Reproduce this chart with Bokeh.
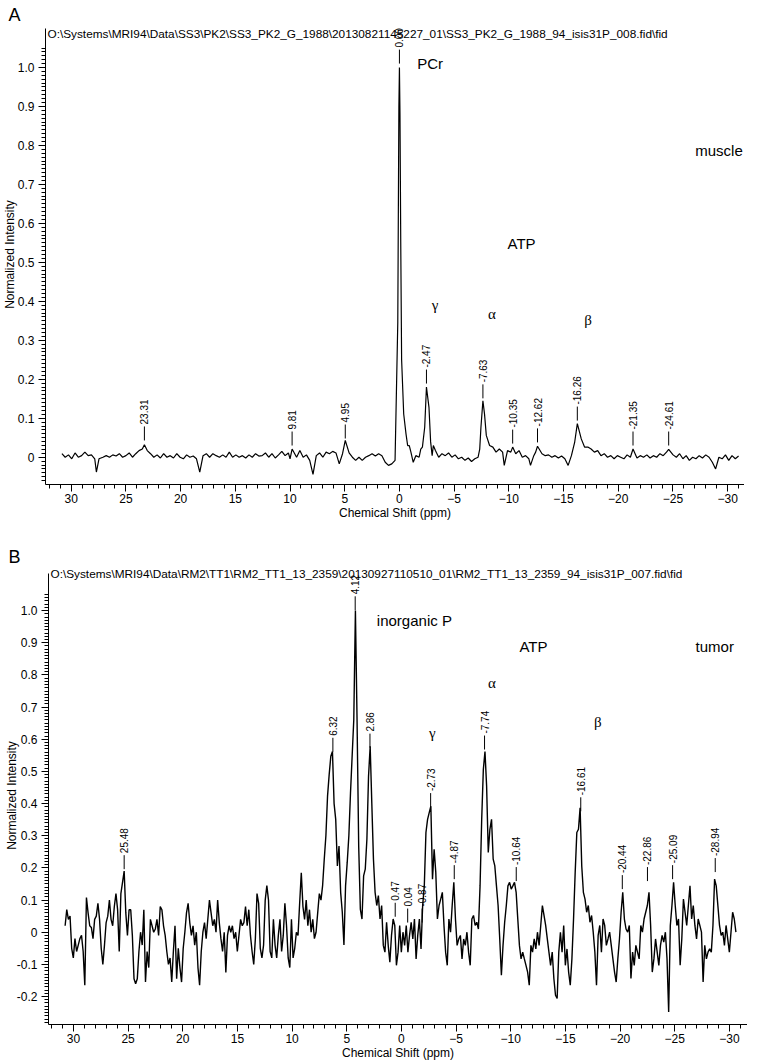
import numpy as np
from bokeh.plotting import figure
from bokeh.layouts import column
from bokeh.models import Range1d, FixedTicker, Label, PrintfTickFormatter
from bokeh.core.properties import value
from bokeh.embed import file_html
from bokeh.resources import INLINE

# ---------------- data: panel A (muscle) ----------------
a_ppm = [30.85, 30.55, 30.25, 29.95, 29.65, 29.35, 29.05, 28.75, 28.45, 28.15, 27.85, 27.70, 27.46, 27.10,
         26.80, 26.50, 26.20, 25.90, 25.60, 25.30, 25.00, 24.70, 24.40, 24.10, 23.80, 23.50, 23.31, 23.05,
         22.75, 22.45, 22.15, 21.85, 21.55, 21.25, 20.95, 20.65, 20.35, 20.05, 19.75, 19.45, 19.15, 18.85,
         18.55, 18.25, 17.95, 17.65, 17.35, 17.05, 16.75, 16.45, 16.15, 15.85, 15.55, 15.25, 14.95, 14.65,
         14.35, 14.05, 13.75, 13.45, 13.15, 12.85, 12.55, 12.25, 11.95, 11.65, 11.35, 11.05, 10.75, 10.45,
         10.15, 10.00, 9.81, 9.40, 9.10, 8.80, 8.50, 8.20, 7.90, 7.60, 7.30, 7.00, 6.70, 6.40, 6.10, 5.80,
         5.50, 5.20, 4.95, 4.60, 4.30, 4.00, 3.70, 3.40, 3.10, 2.80, 2.50, 2.20, 1.90, 1.60, 1.30, 1.00,
         0.70, 0.40, 0.15, 0.05, 0.00, -0.05, -0.12, -0.20, -0.39, -0.60, -0.75, -0.90, -1.05, -1.26,
         -1.50, -1.80, -1.95, -2.10, -2.31, -2.47, -2.70, -2.85, -2.99, -3.10, -3.29, -3.59, -3.89, -4.19,
         -4.49, -4.79, -5.09, -5.39, -5.69, -5.99, -6.29, -6.59, -6.89, -7.19, -7.34, -7.45, -7.63, -7.78,
         -7.94, -8.24, -8.54, -8.83, -9.13, -9.43, -9.58, -9.88, -10.18, -10.35, -10.63, -10.93, -11.23,
         -11.53, -11.83, -11.98, -12.28, -12.45, -12.62, -13.03, -13.33, -13.63, -13.93, -14.23, -14.53,
         -14.82, -15.12, -15.42, -15.72, -16.02, -16.26, -16.62, -16.92, -17.22, -17.52, -17.82, -18.12,
         -18.42, -18.72, -19.02, -19.32, -19.62, -19.92, -20.22, -20.52, -20.81, -21.11, -21.35, -21.71,
         -22.01, -22.31, -22.61, -22.91, -23.21, -23.51, -23.81, -24.11, -24.41, -24.61, -25.01, -25.31,
         -25.61, -25.91, -26.21, -26.50, -26.80, -27.10, -27.40, -27.70, -28.00, -28.30, -28.60, -28.90,
         -29.20, -29.50, -29.80, -30.10, -30.40, -30.70, -31.00]
a_int = [0.009, 0.000, 0.006, -0.004, 0.011, 0.000, 0.004, 0.013, 0.004, 0.006, -0.004, -0.038, -0.004, 0.000,
         0.004, 0.000, 0.006, 0.003, 0.009, 0.000, 0.004, 0.011, 0.000, 0.009, 0.017, 0.021, 0.032, 0.017,
         0.009, 0.000, 0.006, -0.002, 0.009, 0.000, 0.004, -0.002, 0.009, 0.000, -0.004, 0.006, 0.000, 0.003,
         -0.004, -0.038, 0.004, 0.009, 0.000, 0.009, 0.004, 0.000, 0.006, 0.000, 0.013, 0.000, 0.006, 0.000,
         0.004, -0.002, 0.006, 0.000, 0.009, 0.003, 0.004, 0.011, 0.000, 0.009, -0.002, 0.006, 0.015, 0.004,
         0.011, -0.004, 0.021, 0.000, 0.017, 0.000, 0.006, -0.008, -0.044, 0.004, 0.011, 0.000, 0.013, 0.009, 0.015, 0.011,
         -0.017, 0.009, 0.043, 0.011, 0.000, -0.008, 0.000, -0.008, 0.000, 0.004, 0.009, 0.003, 0.009, 0.004, -0.013, -0.021,
         -0.017, -0.008, 0.346, 0.90, 1.00, 0.88, 0.55, 0.25, 0.111, 0.060, 0.030, 0.030, 0.013, -0.013,
         0.004, 0.000, 0.021, 0.026, 0.077, 0.180, 0.128, 0.040, 0.004, 0.030, 0.017, 0.000, 0.009, 0.004,
         0.011, 0.000, 0.006, -0.004, 0.000, -0.008, -0.002, -0.011, -0.004, 0.000, 0.021, 0.077, 0.145, 0.110,
         0.056, 0.030, 0.026, 0.013, 0.021, 0.013, -0.021, 0.017, 0.013, 0.026, 0.009, 0.017, 0.000,
         0.004, -0.004, -0.021, 0.004, 0.013, 0.028, 0.009, 0.004, 0.006, 0.000, 0.004, -0.002,
         0.003, -0.004, -0.021, 0.004, 0.039, 0.086, 0.047, 0.026, 0.026, 0.021, 0.013, 0.017,
         0.004, 0.009, 0.000, 0.004, -0.004, 0.004, 0.000, -0.004, 0.006, 0.000, 0.021, -0.002,
         0.004, 0.000, 0.006, -0.002, 0.004, 0.000, 0.009, 0.004, 0.013, 0.020, 0.006, 0.000,
         0.009, -0.004, 0.004, -0.008, 0.000, -0.004, 0.004, -0.002, 0.006, 0.000, -0.013, -0.030,
         0.000, -0.004, 0.006, -0.008, 0.004, -0.004, 0.003]

a_peak_x = [23.31, 9.81, 4.95, 0.00, -2.47, -7.63, -10.35, -12.62, -16.26, -21.35, -24.61]
a_peak_text = ["23.31", "9.81", "4.95", "0.00", "-2.47", "-7.63", "-10.35", "-12.62", "-16.26", "-21.35", "-24.61"]
a_peak_y = [0.043, 0.030, 0.048, 1.010, 0.189, 0.151, 0.035, 0.038, 0.094, 0.030, 0.030]

a_title = "O:\\Systems\\MRI94\\Data\\SS3\\PK2\\SS3_PK2_G_1988\\20130821145227_01\\SS3_PK2_G_1988_94_isis31P_008.fid\\fid"
a_notes = ["PCr", "muscle", "ATP"]
a_notes_x = [-1.62, -27.04, -9.88]
a_notes_y = [1.010, 0.787, 0.548]
a_greek = ["\u03b3", "\u03b1", "\u03b2"]
a_greek_x = [-2.96, -8.09, -16.9]
a_greek_y = [0.391, 0.368, 0.351]

# ---------------- data: panel B (tumor) ----------------
b_ppm = [
    30.76, 30.61, 30.46, 30.31, 30.16, 30.01, 29.86, 29.71, 29.56, 29.41, 29.26, 29.11, 28.96, 28.81, 28.66, 28.51, 28.36, 28.21, 28.06, 27.91,
    27.76, 27.61, 27.46, 27.31, 27.16, 27.01, 26.86, 26.71, 26.56, 26.41, 26.26, 26.11, 25.96, 25.81, 25.66, 25.51, 25.36, 25.21, 25.06, 24.91,
    24.76, 24.61, 24.46, 24.31, 24.16, 24.01, 23.86, 23.71, 23.56, 23.41, 23.26, 23.11, 22.96, 22.81, 22.66, 22.51, 22.36, 22.21, 22.06, 21.91,
    21.76, 21.61, 21.46, 21.31, 21.16, 21.01, 20.86, 20.71, 20.56, 20.41, 20.26, 20.11, 19.96, 19.81, 19.66, 19.51, 19.36, 19.21, 19.06, 18.91,
    18.76, 18.61, 18.46, 18.31, 18.16, 18.01, 17.86, 17.71, 17.56, 17.41, 17.26, 17.11, 16.96, 16.81, 16.66, 16.51, 16.36, 16.21, 16.06, 15.91,
    15.76, 15.61, 15.46, 15.31, 15.16, 15.01, 14.86, 14.71, 14.56, 14.41, 14.26, 14.11, 13.96, 13.81, 13.66, 13.51, 13.36, 13.21, 13.06, 12.91,
    12.76, 12.61, 12.46, 12.31, 12.16, 12.01, 11.86, 11.71, 11.56, 11.41, 11.26, 11.11, 10.96, 10.81, 10.66, 10.51, 10.36, 10.21, 10.06, 9.91,
    9.76, 9.61, 9.46, 9.31, 9.16, 9.01, 8.86, 8.71, 8.56, 8.41, 8.26, 8.11, 7.96, 7.81, 7.66, 7.51, 7.36, 7.21, 7.06, 6.91,
    6.76, 6.61, 6.46, 6.31, 6.16, 6.01, 5.86, 5.71, 5.56, 5.41, 5.26, 5.11, 4.96, 4.81, 4.66, 4.51, 4.36, 4.21, 4.06, 3.91,
    3.76, 3.61, 3.46, 3.31, 3.16, 3.01, 2.86, 2.71, 2.56, 2.41, 2.26, 2.11, 1.96, 1.81, 1.66, 1.51, 1.36, 1.21, 1.06, 0.91,
    0.76, 0.61, 0.46, 0.31, 0.16, 0.01, -0.14, -0.29, -0.44, -0.59, -0.74, -0.89, -1.04, -1.19, -1.34, -1.49, -1.64, -1.79, -1.94, -2.09,
    -2.24, -2.39, -2.54, -2.69, -2.84, -2.99, -3.14, -3.29, -3.44, -3.59, -3.74, -3.89, -4.04, -4.19, -4.34, -4.49, -4.64, -4.79, -4.94, -5.09,
    -5.24, -5.39, -5.54, -5.69, -5.84, -5.99, -6.14, -6.29, -6.44, -6.59, -6.74, -6.89, -7.04, -7.19, -7.34, -7.49, -7.64, -7.79, -7.94, -8.09,
    -8.24, -8.39, -8.54, -8.69, -8.84, -8.99, -9.14, -9.29, -9.44, -9.59, -9.74, -9.89, -10.04, -10.19, -10.34, -10.49, -10.64, -10.79, -10.94, -11.09,
    -11.24, -11.39, -11.54, -11.69, -11.84, -11.99, -12.14, -12.29, -12.44, -12.59, -12.74, -12.89, -13.04, -13.19, -13.34, -13.49, -13.64, -13.79, -13.94, -14.09,
    -14.24, -14.39, -14.54, -14.69, -14.84, -14.99, -15.14, -15.29, -15.44, -15.59, -15.74, -15.89, -16.04, -16.19, -16.34, -16.49, -16.64, -16.79, -16.94, -17.09,
    -17.24, -17.39, -17.54, -17.69, -17.84, -17.99, -18.14, -18.29, -18.44, -18.59, -18.74, -18.89, -19.04, -19.19, -19.34, -19.49, -19.64, -19.79, -19.94, -20.09,
    -20.24, -20.39, -20.54, -20.69, -20.84, -20.99, -21.14, -21.29, -21.44, -21.59, -21.74, -21.89, -22.04, -22.19, -22.34, -22.49, -22.64, -22.79, -22.94, -23.09,
    -23.24, -23.39, -23.54, -23.69, -23.84, -23.99, -24.14, -24.29, -24.44, -24.59, -24.74, -24.89, -25.04, -25.19, -25.34, -25.49, -25.64, -25.79, -25.94, -26.09,
    -26.24, -26.39, -26.54, -26.69, -26.84, -26.99, -27.14, -27.29, -27.44, -27.59, -27.74, -27.89, -28.04, -28.19, -28.34, -28.49, -28.64, -28.79, -28.94, -29.09,
    -29.24, -29.39, -29.54, -29.69, -29.84, -29.99, -30.14, -30.29, -30.44, -30.59]
b_int = [
    0.02, 0.07, 0.04, 0.05, -0.05, -0.08, -0.02, -0.06, -0.04, -0.02,
    -0.01, -0.06, -0.165, 0.108, 0.06, 0.02, 0.015, -0.02, 0.04, 0.05,
    0.09, 0.04, -0.05, -0.10, -0.04, 0.03, 0.05, 0.10, 0.04, 0.02,
    0.08, 0.12, 0.07, -0.06, 0.12, 0.155, 0.19, 0.06, -0.01, 0.07,
    0.07, -0.01, -0.145, -0.16, -0.145, -0.06, 0.0, -0.04, 0.07, -0.155,
    -0.06, -0.11, 0.04, 0.02, 0.0, 0.01, 0.04, -0.01, 0.08, 0.07,
    0.02, -0.01, -0.06, -0.10, -0.08, -0.155, -0.06, 0.02, -0.145, -0.05,
    -0.11, -0.155, -0.05, 0.0, 0.06, 0.09, 0.03, -0.01, 0.02, -0.04,
    0.0, -0.11, -0.165, -0.06, 0.0, 0.03, -0.02, 0.04, 0.10, 0.06,
    0.02, 0.04, 0.0, 0.10, 0.03, -0.02, -0.06, 0.0, -0.125, -0.01,
    0.02, 0.0, 0.02, -0.02, 0.0, -0.06, -0.01, 0.04, 0.02, 0.03,
    0.08, 0.02, 0.07, -0.01, -0.06, -0.10, -0.02, 0.12, 0.09, -0.05,
    -0.08, -0.04, 0.10, 0.145, 0.10, -0.06, -0.08, 0.04, -0.04, -0.08,
    -0.01, 0.04, -0.06, -0.01, 0.09, 0.02, -0.08, -0.11, 0.04, -0.08,
    -0.05, 0.0, -0.01, 0.09, 0.185, 0.08, 0.04, 0.10, 0.02, 0.07,
    0.0, 0.04, -0.02, 0.0, 0.06, 0.12, 0.10, 0.145, 0.227, 0.30,
    0.423, 0.49, 0.547, 0.562, 0.40, 0.35, 0.206, 0.268, 0.124, 0.062,
    -0.04, 0.145, 0.217, 0.30, 0.433, 0.547, 0.66, 1.0, 0.66, 0.268,
    0.072, 0.041, 0.175, 0.196, 0.289, 0.485, 0.578, 0.40, 0.227, 0.124,
    0.083, 0.114, 0.041, 0.083, -0.041, -0.062, 0.031, -0.041, -0.093, -0.01,
    0.041, 0.021,
    -0.103, -0.062, 0.021, -0.062, 0, -0.041, 0.021, -0.062, -0.01, 0.031,
    -0.021, 0.041, -0.083, -0.01, 0.041, -0.052, 0.083, 0.144, 0.31, 0.351,
    0.372, 0.392, 0.165, 0.258, 0.186, 0.041, 0.083, 0.103, 0.124, 0.021,
    -0.062, -0.103, 0.041, 0, 0.083, 0.155, 0.041, -0.041, -0.021, -0.01,
    -0.083, -0.021, -0.041, 0, -0.062, -0.103, 0.041, 0.052, 0.021, 0.031,
    0.01, 0.144, 0.351, 0.506, 0.562, 0.454, 0.248, 0.32, 0.351, 0.227,
    0.206, 0.144, 0.083, -0.021, -0.134, -0.041, 0.031, 0.083, 0.144, 0.155,
    0.134, 0.144, 0.155, 0.124, 0.041, -0.041, -0.083, -0.062, -0.083, -0.103,
    -0.124, -0.165, -0.041, -0.062, -0.021, -0.052, 0, -0.041, 0.021, 0.083,
    0.052, 0.021, -0.021, -0.062, -0.103, -0.062, -0.144, -0.196, -0.206, -0.062,
    0, -0.062, 0.021, -0.103, -0.052, -0.124, -0.165, -0.083, 0.041, 0.186,
    0.31, 0.32, 0.387, 0.206, 0.124, 0.103, 0.062, 0.083, 0.031, 0.052,
    0, -0.062, -0.165, -0.01, 0.021, -0.062, 0.041, 0.021, -0.041, -0.021,
    0, -0.041, -0.083, -0.124, -0.155, -0.083, -0.021, 0.062, 0.124, 0.041,
    0.01, 0, 0.021, -0.144, -0.062, -0.103, -0.041, -0.062, -0.083, 0.021,
    0, 0.041, 0.062, 0.083, 0.124, 0.021, -0.124, -0.083, -0.021, -0.062,
    -0.103, -0.041, -0.01, -0.031, 0, -0.083, -0.248, 0.021, 0.083, 0.155,
    0.083, 0.021, 0.041, -0.103, -0.021, 0.103, 0.062, 0.021, 0.083, 0.144,
    0.041, 0.083, 0.021, -0.021, 0.041, 0.021, 0, -0.155, -0.041, -0.083,
    -0.062, -0.052, -0.062, 0.021, 0.165, 0.144, 0.083, 0.021, -0.01, 0,
    -0.041, 0.021, -0.021, -0.062, 0, 0.062, 0.041, 0]

b_peak_x = [25.36, 6.27, 4.23, 2.88, 0.57, -0.57, -1.89, -2.67, -4.83, -7.60, -10.50, -16.40, -20.20, -22.50, -24.80, -28.70]
b_peak_text = ["25.48", "6.32", "4.12", "2.86", "0.47", "0.04", "-0.87", "-2.73", "-4.87", "-7.74", "-10.64",
               "-16.61", "-20.44", "-22.86", "-25.09", "-28.94"]
b_peak_y = [0.196, 0.561, 1.001, 0.574, 0.048, 0.030, 0.030, 0.389, 0.165, 0.568, 0.159, 0.376, 0.134, 0.159, 0.165, 0.187]

b_title = "O:\\Systems\\MRI94\\Data\\RM2\\TT1\\RM2_TT1_13_2359\\20130927110510_01\\RM2_TT1_13_2359_94_isis31P_007.fid\\fid"
b_notes = ["inorganic P", "ATP", "tumor"]
b_notes_x = [2.25, -10.79, -26.9]
b_notes_y = [0.970, 0.889, 0.889]
b_greek = ["\u03b3", "\u03b1", "\u03b2"]
b_greek_x = [-2.52, -7.91, -17.6]
b_greek_y = [0.62, 0.775, 0.654]

x_major = [30, 25, 20, 15, 10, 5, 0, -5, -10, -15, -20, -25, -30]
a_y_major = [0, 0.1, 0.2, 0.3, 0.4, 0.5, 0.6, 0.7, 0.8, 0.9, 1.0]
b_y_major = [-0.2, -0.1, 0, 0.1, 0.2, 0.3, 0.4, 0.5, 0.6, 0.7, 0.8, 0.9, 1.0]

SANS = "Liberation Sans"
SERIF = "Liberation Serif"
LEFT_BORDER = 60
PAGE_W = 771


def panel(height, frame_left, xr, yr, ybounds, top, bottom, y_major, y_minor_lo, letter, ylab_standoff):
    shift = LEFT_BORDER - frame_left
    p = figure(width=PAGE_W, height=height, x_range=Range1d(*xr), y_range=Range1d(*yr),
               output_backend="svg", toolbar_location=None, tools="",
               min_border_left=LEFT_BORDER, min_border_right=0,
               min_border_top=top, min_border_bottom=bottom)
    p.outline_line_color = None
    p.grid.visible = False
    p.background_fill_color = "white"
    p.border_fill_color = "white"
    p.title.text = letter
    p.title.text_font = SANS
    p.title.text_font_size = "18px"
    p.title.text_font_style = "normal"
    p.title.text_color = "black"
    p.title.align = "left"
    p.title.offset = 8 - frame_left
    p.title.standoff = 0
    p.title.vertical_align = "bottom"
    x_minor = list(range(-32, 33))
    y_minor = [round(i * 0.01, 2) for i in range(y_minor_lo, 106)]
    p.xaxis.ticker = FixedTicker(ticks=x_major, minor_ticks=x_minor)
    p.yaxis.ticker = FixedTicker(ticks=y_major, minor_ticks=y_minor)
    p.yaxis.formatter = PrintfTickFormatter(format="%.1f")
    p.yaxis.major_label_overrides = {0: "0"}
    p.yaxis.bounds = ybounds
    for ax in (p.xaxis[0], p.yaxis[0]):
        ax.axis_line_color = "black"
        ax.axis_line_width = 1
        ax.major_tick_line_color = "black"
        ax.minor_tick_line_color = "black"
        ax.major_tick_out = 7
        ax.major_tick_in = 0
        ax.minor_tick_out = 4
        ax.minor_tick_in = 0
        ax.major_label_text_font = SANS
        ax.major_label_text_font_size = "12px"
        ax.major_label_text_color = "black"
        ax.axis_label_text_font = SANS
        ax.axis_label_text_font_size = "12px"
        ax.axis_label_text_font_style = "normal"
        ax.axis_label_text_color = "black"
    p.yaxis.major_label_standoff = 4
    p.xaxis.major_label_standoff = 2
    p.xaxis.axis_label_standoff = 0
    p.yaxis.axis_label_standoff = ylab_standoff
    p.xaxis.axis_label = "Chemical Shift (ppm)"
    p.yaxis.axis_label = "Normalized Intensity"
    # shift the canvas left so that the plot frame starts at the wanted page x
    p.margin = (0, 0, 0, -shift)
    return p


def decorate(p, ppm, inten, lw, px, ptext, py, title, tx, ty, notes, nx, ny, greek, gx, gy):
    p.line(ppm, inten, line_color="black", line_width=lw)
    p.ray(x=px, y=py, length=14, length_units="screen", angle=np.pi / 2,
          line_color="black", line_width=1)
    p.text(x=px, y=py, text=ptext, angle=np.pi / 2, y_offset=-16,
           text_font=value(SANS), text_font_size=value("10px"), text_color="black",
           text_align="left", text_baseline="middle")
    p.add_layout(Label(x=tx, y=ty, text=title, text_font=SANS, text_font_size="11.8px",
                       text_color="black", text_align="left", text_baseline="middle"))
    for t, x, y in zip(notes, nx, ny):
        p.add_layout(Label(x=x, y=y, text=t, text_font=SANS, text_font_size="15px",
                           text_color="black", text_align="left", text_baseline="middle"))
    for t, x, y in zip(greek, gx, gy):
        p.add_layout(Label(x=x, y=y, text=t, text_font=SERIF, text_font_size="15px",
                           text_color="black", text_align="left", text_baseline="middle"))


# panel A: frame at page x 45..756, y 24..484  (11.13 px per ppm)
pa = panel(530, 45, (32.35, -31.54), (-0.070, 1.1103), (-0.07, 1.10), 24, 46,
           a_y_major, -6, "A", -2)
decorate(pa, a_ppm, a_int, 1.2, a_peak_x, a_peak_text, a_peak_y, a_title, 32.17, 1.0847,
         a_notes, a_notes_x, a_notes_y, a_greek, a_greek_x, a_greek_y)

# panel B: frame at page x 48..759, y 566..1026  (11.12 px per ppm)
pb = panel(532, 48, (32.28, -31.65), (-0.287, 1.1372), (-0.287, 1.1155), 36, 36,
           b_y_major, -28, "B", -5)
decorate(pb, b_ppm, b_int, 1.4, b_peak_x, b_peak_text, b_peak_y, b_title, 32.10, 1.115,
         b_notes, b_notes_x, b_notes_y, b_greek, b_greek_x, b_greek_y)

layout = column(pa, pb, spacing=0)
open("out.html", "w").write(file_html(layout, INLINE))
